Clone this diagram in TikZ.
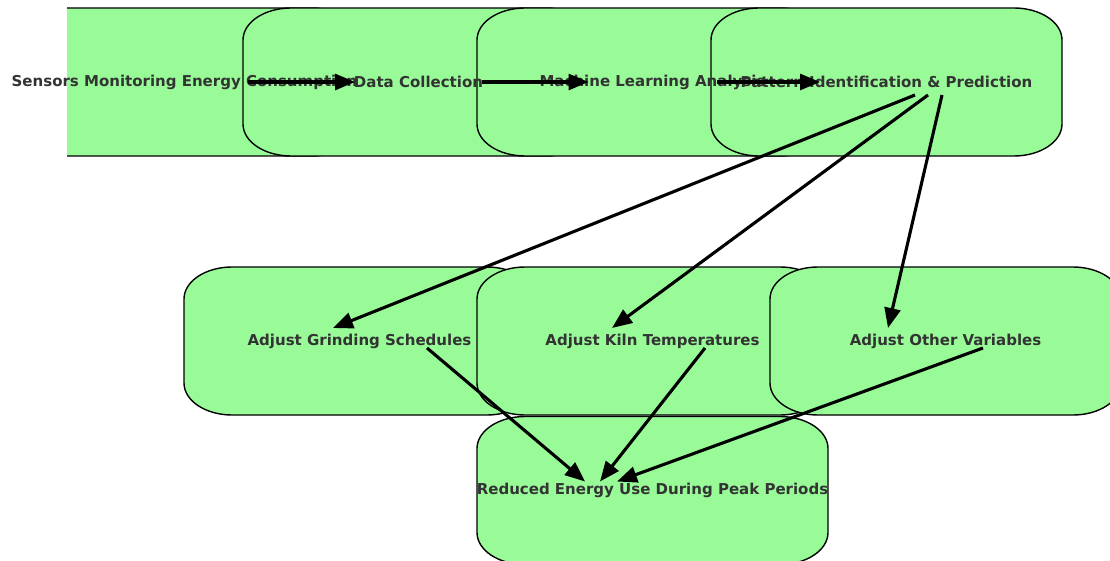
\documentclass[tikz,border=0pt]{standalone}
\usepackage{fontspec}
\setsansfont{DejaVu Sans}
\usetikzlibrary{arrows.meta,calc}
\definecolor{boxgreen}{HTML}{98FB98}
\definecolor{labelgray}{HTML}{333333}
\pgfdeclarelayer{background}
\pgfsetlayers{background,main}
\newcommand\gbox[1]{%
  \path[boxfill] ($(#1.center)+(-127.5,-74)$) -- ($(#1.center)+(127.5,-74)$)
    arc[start angle=90,end angle=0,x radius=48pt,y radius=32pt]
    -- ($(#1.center)+(175.5,42)$)
    arc[start angle=0,end angle=-90,x radius=48pt,y radius=32pt]
    -- ($(#1.center)+(-127.5,74)$)
    arc[start angle=-90,end angle=-180,x radius=48pt,y radius=32pt]
    -- ($(#1.center)+(-175.5,-42)$)
    arc[start angle=180,end angle=90,x radius=48pt,y radius=32pt] -- cycle;}

\begin{document}
\begin{tikzpicture}[x=1pt,y=-1pt,
  lbl/.style={inner sep=0pt,font=\sffamily\bfseries\fontsize{15}{17}\selectfont,text=labelgray},
  boxfill/.style={draw=black,line width=1.4pt,fill=boxgreen},
  edge/.style={line width=3.1pt,-{Triangle[length=20pt,width=16pt]}}]

\useasboundingbox (0,0) rectangle (1110,561);

\node[lbl] (sens)  at (184.5,82) {Sensors Monitoring Energy Consumption};
\node[lbl] (data)  at (418.5,82) {Data Collection};
\node[lbl] (ml)    at (652.5,82) {Machine Learning Analysis};
\node[lbl] (pat)   at (886.5,82) {Pattern Identification \& Prediction};
\node[lbl] (grind) at (359.5,341) {Adjust Grinding Schedules};
\node[lbl] (kiln)  at (652.5,341) {Adjust Kiln Temperatures};
\node[lbl] (other) at (945.5,341) {Adjust Other Variables};
\node[lbl] (red)   at (652.5,490.5) {Reduced Energy Use During Peak Periods};

\begin{pgfonlayer}{background}
\begin{scope}
\clip (67,0) rectangle (1110,561);
\foreach \n in {sens,data,ml,pat,grind,kiln,other,red} {\gbox{\n}}
\end{scope}
\end{pgfonlayer}

\draw[edge] ($(sens.center)+(63.5,0)$) -- ($(data.center)+(-63.5,0)$);
\draw[edge] ($(data.center)+(63.5,0)$) -- ($(ml.center)+(-64,0)$);
\draw[edge] ($(ml.center)+(64.5,0)$) -- ($(pat.center)+(-66.5,0)$);
\draw[edge] ($(pat.center)+(28.5,13)$) -- ($(grind.center)+(-26.5,-13)$);
\draw[edge] ($(pat.center)+(41.5,13)$) -- ($(kiln.center)+(-40.5,-13)$);
\draw[edge] ($(pat.center)+(55.5,13)$) -- ($(other.center)+(-57.5,-13)$);
\draw[edge] ($(grind.center)+(67.5,7)$) -- ($(red.center)+(-67.5,-9)$);
\draw[edge] ($(kiln.center)+(52.5,7)$) -- ($(red.center)+(-52.5,-9)$);
\draw[edge] ($(other.center)+(37.5,7)$) -- ($(red.center)+(-35.5,-9)$);
\end{tikzpicture}
\end{document}
